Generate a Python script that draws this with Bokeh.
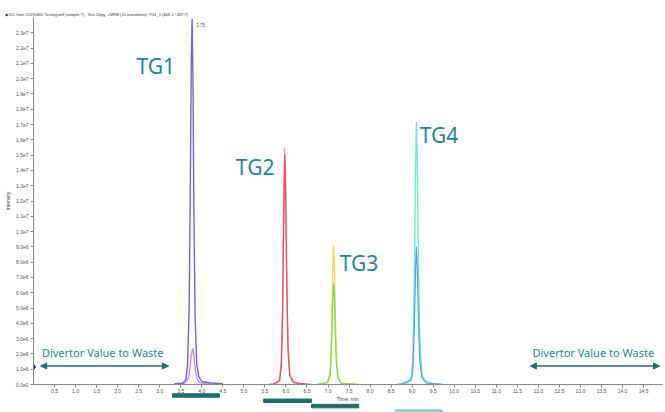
from bokeh.plotting import figure
from bokeh.layouts import column
from bokeh.models import ColumnDataSource, FixedTicker, Arrow, NormalHead, Range1d
from bokeh.core.properties import value
from bokeh.embed import file_html
from bokeh.resources import INLINE

TITLE = "\u25c6 XIC from 20190405 Testing.wiff (sample 7) - Test 10pg, +MRM (10 transitions): TG1_1 (648.1 / 467.7)"

# ---- axis ticks -------------------------------------------------------------
x_ticks = [0.5, 1.0, 1.5, 2.0, 2.5, 3.0, 3.5, 4.0, 4.5, 5.0, 5.5, 6.0, 6.5, 7.0, 7.5,
           8.0, 8.5, 9.0, 9.5, 10.0, 10.5, 11.0, 11.5, 12.0, 12.5, 13.0, 13.5, 14.0, 14.5]
x_tick_labels = ["0.5", "1.0", "1.5", "2.0", "2.5", "3.0", "3.5", "4.0", "4.5", "5.0",
                 "5.5", "6.0", "6.5", "7.0", "7.5", "8.0", "8.5", "9.0", "9.5", "10.0",
                 "10.5", "11.0", "11.5", "12.0", "12.5", "13.0", "13.5", "14.0", "14.5"]
x_minor = [0.1, 0.2, 0.3, 0.4, 0.6, 0.7, 0.8, 0.9, 1.1, 1.2, 1.3, 1.4, 1.6, 1.7, 1.8, 1.9,
           2.1, 2.2, 2.3, 2.4, 2.6, 2.7, 2.8, 2.9, 3.1, 3.2, 3.3, 3.4, 3.6, 3.7, 3.8, 3.9,
           4.1, 4.2, 4.3, 4.4, 4.6, 4.7, 4.8, 4.9, 5.1, 5.2, 5.3, 5.4, 5.6, 5.7, 5.8, 5.9,
           6.1, 6.2, 6.3, 6.4, 6.6, 6.7, 6.8, 6.9, 7.1, 7.2, 7.3, 7.4, 7.6, 7.7, 7.8, 7.9,
           8.1, 8.2, 8.3, 8.4, 8.6, 8.7, 8.8, 8.9, 9.1, 9.2, 9.3, 9.4, 9.6, 9.7, 9.8, 9.9,
           10.1, 10.2, 10.3, 10.4, 10.6, 10.7, 10.8, 10.9, 11.1, 11.2, 11.3, 11.4, 11.6,
           11.7, 11.8, 11.9, 12.1, 12.2, 12.3, 12.4, 12.6, 12.7, 12.8, 12.9, 13.1, 13.2,
           13.3, 13.4, 13.6, 13.7, 13.8, 13.9, 14.1, 14.2, 14.3, 14.4, 14.6, 14.7, 14.8, 14.9]
y_ticks = [0, 1e6, 2e6, 3e6, 4e6, 5e6, 6e6, 7e6, 8e6, 9e6, 10e6, 11e6, 12e6, 13e6, 14e6,
           15e6, 16e6, 17e6, 18e6, 19e6, 20e6, 21e6, 22e6, 23e6]
y_tick_labels = ["0.0e0", "1.0e6", "2.0e6", "3.0e6", "4.0e6", "5.0e6", "6.0e6", "7.0e6",
                 "8.0e6", "9.0e6", "1.0e7", "1.1e7", "1.2e7", "1.3e7", "1.4e7", "1.5e7",
                 "1.6e7", "1.7e7", "1.8e7", "1.9e7", "2.0e7", "2.1e7", "2.2e7", "2.3e7"]

# ---- chromatogram traces (time, min / intensity, cps) ----------------------
tg1_main_t = [3.35, 3.55, 3.62, 3.66, 3.70, 3.73, 3.75, 3.77, 3.79, 3.81, 3.84, 3.88, 3.93, 4.00, 4.20, 4.50]
tg1_main_i = [0.05e6, 0.08e6, 0.3e6, 1.2e6, 5.0e6, 14.0e6, 21.0e6, 23.9e6, 20.0e6, 12.0e6,
              4.5e6, 1.3e6, 0.5e6, 0.2e6, 0.1e6, 0.05e6]
tg1_minor_t = [3.45, 3.60, 3.68, 3.72, 3.75, 3.78, 3.80, 3.82, 3.85, 3.89, 3.95, 4.10, 4.40]
tg1_minor_i = [0.03e6, 0.1e6, 0.4e6, 1.1e6, 1.9e6, 2.35e6, 2.2e6, 1.7e6, 0.9e6, 0.35e6,
               0.12e6, 0.05e6, 0.03e6]

tg2_a_t = [5.60, 5.79, 5.85, 5.89, 5.92, 5.95, 5.97, 5.99, 6.02, 6.05, 6.09, 6.15, 6.30, 6.60]
tg2_a_i = [0.03e6, 0.08e6, 0.3e6, 1.5e6, 5.0e6, 12.5e6, 15.5e6, 13.8e6, 7.0e6, 2.5e6,
           0.7e6, 0.2e6, 0.06e6, 0.03e6]
tg2_b_t = [5.70, 5.85, 5.89, 5.92, 5.95, 5.97, 5.99, 6.02, 6.05, 6.09, 6.20, 6.50]
tg2_b_i = [0.03e6, 0.25e6, 1.3e6, 4.5e6, 11.5e6, 15.0e6, 13.0e6, 6.5e6, 2.2e6, 0.6e6,
           0.1e6, 0.03e6]

tg3_a_t = [6.85, 6.99, 7.05, 7.08, 7.11, 7.13, 7.15, 7.17, 7.20, 7.24, 7.31, 7.50]
tg3_a_i = [0.03e6, 0.15e6, 0.8e6, 3.0e6, 7.2e6, 9.1e6, 8.3e6, 5.0e6, 1.8e6, 0.5e6,
           0.1e6, 0.03e6]
tg3_b_t = [6.75, 6.99, 7.05, 7.08, 7.11, 7.13, 7.15, 7.17, 7.20, 7.24, 7.31, 7.70]
tg3_b_i = [0.03e6, 0.12e6, 0.6e6, 2.2e6, 5.2e6, 6.6e6, 6.0e6, 3.6e6, 1.3e6, 0.4e6,
           0.08e6, 0.03e6]

tg4_a_t = [8.65, 8.90, 8.98, 9.02, 9.05, 9.08, 9.10, 9.12, 9.15, 9.18, 9.23, 9.30, 9.50, 9.72]
tg4_a_i = [0.03e6, 0.1e6, 0.5e6, 2.0e6, 6.5e6, 14.0e6, 17.2e6, 15.0e6, 8.0e6, 3.0e6,
           0.8e6, 0.25e6, 0.06e6, 0.03e6]
tg4_b_t = [8.75, 8.98, 9.02, 9.05, 9.08, 9.10, 9.12, 9.15, 9.18, 9.23, 9.35, 9.65]
tg4_b_i = [0.03e6, 0.3e6, 1.1e6, 3.5e6, 7.4e6, 9.0e6, 7.8e6, 4.2e6, 1.6e6, 0.45e6,
           0.08e6, 0.03e6]

# ---- annotations -------------------------------------------------------------
peak_names = ["TG1", "TG2", "TG3", "TG4"]
peak_name_t = [2.45, 4.81, 7.28, 9.18]
peak_name_i = [20.8e6, 14.2e6, 7.95e6, 16.3e6]

apex_label = ["3.75"]
apex_label_t = [3.87]
apex_label_i = [23.5e6]

divert_text = ["Divertor Value to Waste", "Divertor Value to Waste"]
divert_text_t = [0.20, 11.86]
divert_text_i = [2.06e6, 2.06e6]
divert_start = [0.17, 11.81]
divert_end = [3.21, 14.88]
divert_level = [1.21e6, 1.21e6]

marker_t = [0.0]
marker_i = [1.15e6]

# MRM acquisition windows (bars below the time axis)
window_start = [3.30, 5.47, 6.61, 8.60]
window_end = [4.42, 6.61, 7.73, 9.72]
window_row = [1, 2, 3, 4]
window_color = ["#1f6f70", "#1f6f70", "#1f6f70", "#8fd3d3"]

FONT = "Liberation Sans"
TEAL = "#1d8799"

p = figure(frame_width=629, frame_height=367, x_range=Range1d(0, 14.95), y_range=Range1d(0, 24.0e6),
           output_backend="svg", toolbar_location=None, title=TITLE,
           min_border_left=33, min_border_right=3, min_border_top=17, min_border_bottom=0)
p.outline_line_color = None
p.grid.visible = False
p.title.text_font = FONT
p.title.text_font_size = "4px"
p.title.text_font_style = "normal"
p.title.text_color = "#333333"
p.title.standoff = 1
p.title.offset = -29

p.xaxis.ticker = FixedTicker(ticks=x_ticks, minor_ticks=x_minor)
p.xaxis.major_label_overrides = dict(zip(x_ticks, x_tick_labels))
p.yaxis.ticker = FixedTicker(ticks=y_ticks)
p.yaxis.major_label_overrides = dict(zip(y_ticks, y_tick_labels))
p.xaxis.axis_label = "Time, min"
p.yaxis.axis_label = "Intensity"
for ax in (p.xaxis, p.yaxis):
    ax.axis_line_color = "#888888"
    ax.major_tick_line_color = "#888888"
    ax.minor_tick_line_color = "#aaaaaa"
    ax.major_label_text_font = FONT
    ax.major_label_text_font_size = "5px"
    ax.major_label_text_color = "#555555"
    ax.axis_label_text_font = FONT
    ax.axis_label_text_font_size = "5px"
    ax.axis_label_text_font_style = "normal"
    ax.axis_label_text_color = "#444444"
    ax.major_tick_out = 3
    ax.major_tick_in = 0
    ax.major_label_standoff = 2
    ax.axis_label_standoff = 2
p.xaxis.major_label_standoff = 1
p.xaxis.axis_label_standoff = 0
p.xaxis.minor_tick_out = 1
p.xaxis.minor_tick_in = 0
p.yaxis.minor_tick_line_color = None

# traces
p.line(tg1_minor_t, tg1_minor_i, line_color="#cf8de6", line_width=1.4)
p.line(tg1_main_t, tg1_main_i, line_color="#6f63e6", line_width=1.4)
p.line(tg2_a_t, tg2_a_i, line_color="#f29bb8", line_width=1.4)
p.line(tg2_b_t, tg2_b_i, line_color="#e8505c", line_width=1.3)
p.line(tg3_a_t, tg3_a_i, line_color="#f0dc55", line_width=1.4)
p.line(tg3_b_t, tg3_b_i, line_color="#84d84a", line_width=1.3)
p.line(tg4_a_t, tg4_a_i, line_color="#74e6d6", line_width=1.4)
p.line(tg4_b_t, tg4_b_i, line_color="#5a9fe0", line_width=1.2)

p.scatter(marker_t, marker_i, marker="diamond", size=6, color="#1c2b8c")

p.text(x=peak_name_t, y=peak_name_i, text=peak_names, text_font=value("Noto Sans"),
       text_font_size="21px", text_color=TEAL, text_baseline="middle", text_align="left")
p.text(x=apex_label_t, y=apex_label_i, text=apex_label, text_font=value(FONT),
       text_font_size="4.5px", text_color="#555555", text_baseline="middle", text_align="left")
p.text(x=divert_text_t, y=divert_text_i, text=divert_text, text_font=value("Noto Sans"),
       text_font_size="11px", text_color=TEAL, text_baseline="middle", text_align="left")

arrow_src = ColumnDataSource(dict(x0=divert_start, x1=divert_end, y=divert_level))
head = dict(size=6, fill_color="#1b7272", line_color="#1b7272")
p.add_layout(Arrow(start=NormalHead(**head), end=NormalHead(**head), source=arrow_src,
                   x_start="x0", x_end="x1", y_start="y", y_end="y",
                   line_color="#1b7272", line_width=1.5))

# strip with the acquisition windows, under the time axis
pb = figure(frame_width=629, frame_height=20, x_range=p.x_range, y_range=Range1d(4.21, 0.434),
            output_backend="svg", toolbar_location=None,
            min_border_left=33, min_border_right=3, min_border_top=0, min_border_bottom=0)
pb.axis.visible = False
pb.grid.visible = False
pb.outline_line_color = None
pb.background_fill_alpha = 0
pb.border_fill_alpha = 0
pb.hbar(y=window_row, left=window_start, right=window_end, height=0.66, color=window_color)
pb.margin = (-12, 0, 0, 0)

layout = column(p, pb, spacing=0)
open("out.html", "w").write(file_html(layout, INLINE))
